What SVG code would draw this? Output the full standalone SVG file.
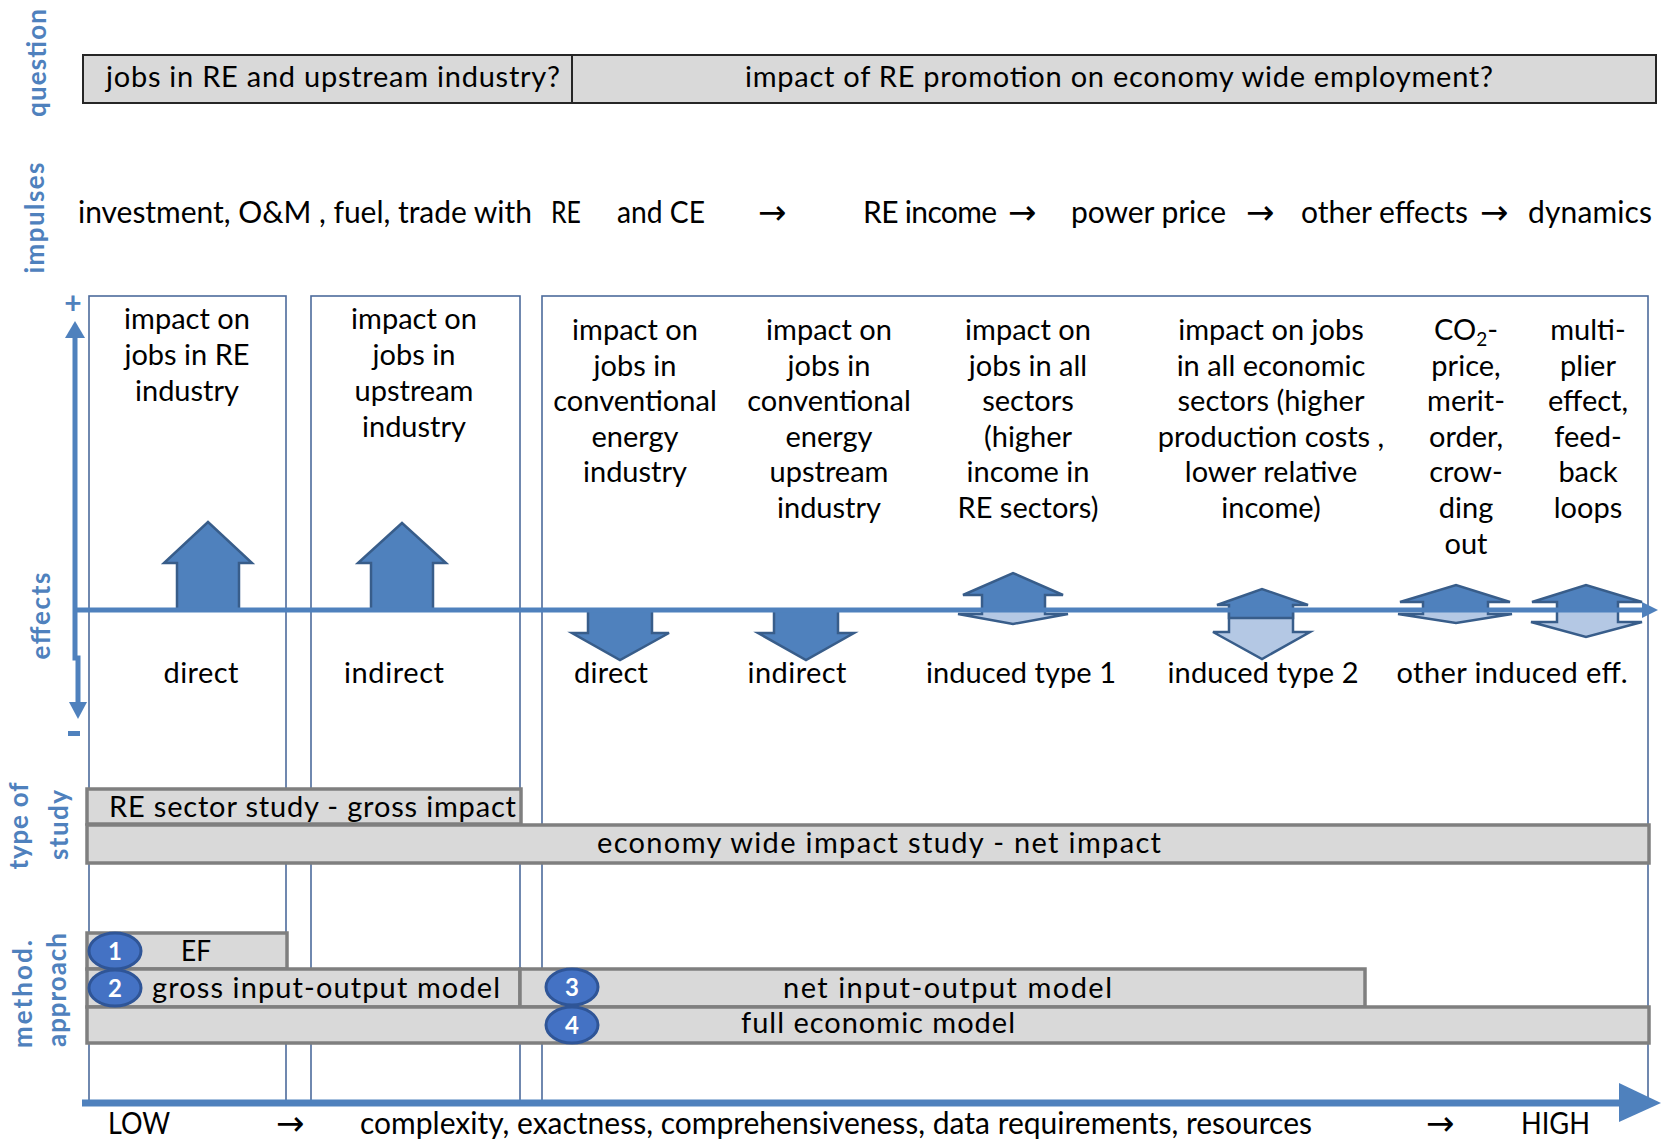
<svg xmlns="http://www.w3.org/2000/svg" width="1662" height="1140" viewBox="0 0 1662 1140">
  <style>
    text { font-family: Lato, "Liberation Sans", sans-serif; fill: #000; }
    .side { font-size: 26px; font-weight: bold; fill: #4F81BD; text-anchor: middle; }
    .q { font-size: 29px; }
    .imp { font-size: 30px; }
    .arr { font-family: "DejaVu Sans", sans-serif; font-size: 34px; }
    .col { font-size: 29px; text-anchor: middle; }
    .lbl { font-size: 29px; text-anchor: middle; }
    .bar { font-size: 29px; }
    .mid { text-anchor: middle; }
    .qbox { fill: #D9D9D9; stroke: #262626; stroke-width: 2; }
    .frame { fill: none; stroke: #4D6B9C; stroke-width: 1.6; }
    .gbox { fill: #D9D9D9; stroke: #7F7F7F; stroke-width: 3.5; }
    .up { fill: #4F81BD; stroke: #385D8A; stroke-width: 2.5; stroke-linejoin: miter; }
    .down { fill: #B4C8E4; stroke: #385D8A; stroke-width: 2.5; }
    .axis { stroke: #4F81BD; fill: none; }
    .axhead { fill: #4F81BD; }
    .badge ellipse { fill: #4472C4; stroke: #2F5597; stroke-width: 3; }
    .badge text { fill: #fff; font-size: 24px; font-weight: bold; text-anchor: middle; }
  </style>

  <!-- row captions on the left -->
  <g id="captions">
    <text class="side" transform="translate(46,63) rotate(-90)" textLength="108">question</text>
    <text class="side" transform="translate(44,218) rotate(-90)" textLength="111">impulses</text>
    <text class="side" transform="translate(50,616) rotate(-90)" textLength="87">effects</text>
    <text class="side" transform="translate(28,826) rotate(-90)" textLength="87">type of</text>
    <text class="side" transform="translate(68,825) rotate(-90)" textLength="70">study</text>
    <text class="side" transform="translate(32,994) rotate(-90)" textLength="108">method.</text>
    <text class="side" transform="translate(66,990) rotate(-90)" textLength="114">approach</text>
  </g>

  <!-- question bar -->
  <g id="question">
    <rect class="qbox" x="83" y="55" width="1573" height="48"/>
    <line x1="572" y1="55" x2="572" y2="103" stroke="#262626" stroke-width="2"/>
    <text class="q" x="106" y="87" textLength="454">jobs in RE and upstream industry?</text>
    <text class="q" x="745" y="87" textLength="748">impact of RE promotion on economy wide employment?</text>
  </g>

  <!-- impulses row -->
  <g id="impulses">
    <text class="imp" x="78" y="223" textLength="454">investment, O&amp;M , fuel, trade with</text>
    <text class="imp" x="551" y="223" textLength="30" lengthAdjust="spacingAndGlyphs">RE</text>
    <text class="imp" x="617" y="223" textLength="88" lengthAdjust="spacingAndGlyphs">and CE</text>
    <text class="arr" x="758" y="224">→</text>
    <text class="imp" x="863" y="223" textLength="134">RE income</text>
    <text class="arr" x="1008" y="224">→</text>
    <text class="imp" x="1071" y="223" textLength="155">power price</text>
    <text class="arr" x="1246" y="224">→</text>
    <text class="imp" x="1301" y="223" textLength="167">other effects</text>
    <text class="arr" x="1480" y="224">→</text>
    <text class="imp" x="1528" y="223" textLength="124">dynamics</text>
  </g>

  <!-- column frames -->
  <g id="frames">
    <rect class="frame" x="89" y="296" width="197" height="807"/>
    <rect class="frame" x="311" y="296" width="209" height="807"/>
    <rect class="frame" x="542" y="296" width="1106" height="807"/>
  </g>

  <!-- effect descriptions -->
  <g id="col-re">
    <text class="col" x="187" y="329">impact on</text>
    <text class="col" x="187" y="365">jobs in RE</text>
    <text class="col" x="187" y="401">industry</text>
  </g>
  <g id="col-upstream">
    <text class="col" x="414" y="329">impact on</text>
    <text class="col" x="414" y="365">jobs in</text>
    <text class="col" x="414" y="401">upstream</text>
    <text class="col" x="414" y="437">industry</text>
  </g>
  <g id="col-ce">
    <text class="col" x="635" y="340">impact on</text>
    <text class="col" x="635" y="376">jobs in</text>
    <text class="col" x="635" y="411">conventional</text>
    <text class="col" x="635" y="447">energy</text>
    <text class="col" x="635" y="482">industry</text>
  </g>
  <g id="col-ce-upstream">
    <text class="col" x="829" y="340">impact on</text>
    <text class="col" x="829" y="376">jobs in</text>
    <text class="col" x="829" y="411">conventional</text>
    <text class="col" x="829" y="447">energy</text>
    <text class="col" x="829" y="482">upstream</text>
    <text class="col" x="829" y="518">industry</text>
  </g>
  <g id="col-induced1">
    <text class="col" x="1028" y="340">impact on</text>
    <text class="col" x="1028" y="376">jobs in all</text>
    <text class="col" x="1028" y="411">sectors</text>
    <text class="col" x="1028" y="447">(higher</text>
    <text class="col" x="1028" y="482">income in</text>
    <text class="col" x="1028" y="518">RE sectors)</text>
  </g>
  <g id="col-induced2">
    <text class="col" x="1271" y="340">impact on jobs</text>
    <text class="col" x="1271" y="376">in all economic</text>
    <text class="col" x="1271" y="411">sectors (higher</text>
    <text class="col" x="1271" y="447">production costs ,</text>
    <text class="col" x="1271" y="482">lower relative</text>
    <text class="col" x="1271" y="518">income)</text>
  </g>
  <g id="col-co2">
    <text class="col" x="1466" y="340">CO<tspan font-size="19" dy="6">2</tspan><tspan dy="-6">-</tspan></text>
    <text class="col" x="1466" y="376">price,</text>
    <text class="col" x="1466" y="411">merit-</text>
    <text class="col" x="1466" y="447">order,</text>
    <text class="col" x="1466" y="482">crow-</text>
    <text class="col" x="1466" y="518">ding</text>
    <text class="col" x="1466" y="554">out</text>
  </g>
  <g id="col-multiplier">
    <text class="col" x="1588" y="340">multi-</text>
    <text class="col" x="1588" y="376">plier</text>
    <text class="col" x="1588" y="411">effect,</text>
    <text class="col" x="1588" y="447">feed-</text>
    <text class="col" x="1588" y="482">back</text>
    <text class="col" x="1588" y="518">loops</text>
  </g>

  <!-- effect direction arrows -->
  <g id="effect-arrows">
    <polygon class="up" points="177,610 177,563 164,563 208,522 252,563 239,563 239,610"/>
    <polygon class="up" points="371,610 371,563 358,563 402,523 446,563 433,563 433,610"/>
    <polygon class="up" points="588,610 588,633 572,633 620,660 669,633 652,633 652,610"/>
    <polygon class="up" points="774,610 774,633 758,633 806,660 854,633 838,633 838,610"/>
    <!-- induced type 1 -->
    <polygon class="down" points="982,610 982,614 958,614 1013,624 1068,614 1045,614 1045,610"/>
    <polygon class="up" points="982,610 982,595 963,595 1013,573 1063,595 1045,595 1045,610"/>
    <!-- induced type 2 -->
    <polygon class="down" points="1229,610 1229,632 1213,632 1262,659 1310,632 1293,632 1293,610"/>
    <polygon class="up" points="1229,618 1229,605 1217,605 1262,589 1308,605 1293,605 1293,618"/>
    <!-- other induced effects -->
    <polygon class="down" points="1423,610 1423,614 1398,614 1456,623 1512,614 1488,614 1488,610"/>
    <polygon class="up" points="1423,610 1423,602 1400,602 1456,585 1510,602 1488,602 1488,610"/>
    <polygon class="down" points="1557,610 1557,622 1531,622 1586,637 1642,622 1618,622 1618,610"/>
    <polygon class="up" points="1557,610 1557,602 1532,602 1586,585 1642,602 1618,602 1618,610"/>
  </g>

  <!-- axes -->
  <g id="connectors">
    <line class="axis" x1="75" y1="610" x2="1645" y2="610" stroke-width="5"/>
    <polygon class="axhead" points="1642,602 1658,610 1642,618"/>
    <line class="axis" x1="75" y1="610" x2="75" y2="334" stroke-width="5"/>
    <polygon class="axhead" points="65,338 75,321 85,338"/>
    <polyline class="axis" points="75,610 75,658 78,658 78,704" stroke-width="5"/>
    <polygon class="axhead" points="69,702 78,719 87,702"/>
    <line class="axis" x1="82" y1="1103" x2="1622" y2="1103" stroke-width="7"/>
    <polygon class="axhead" points="1619,1083 1661,1103 1619,1122"/>
  </g>

  <!-- axis signs -->
  <g id="signs">
    <text x="73" y="314" font-size="30" font-weight="bold" style="fill:#4F81BD" class="mid">+</text>
    <rect x="68" y="731" width="12" height="5" fill="#4F81BD"/>
  </g>

  <!-- effect type labels -->
  <g id="effect-labels">
    <text class="lbl" x="201" y="683" textLength="75">direct</text>
    <text class="lbl" x="394" y="683" textLength="100">indirect</text>
    <text class="lbl" x="611" y="683" textLength="74">direct</text>
    <text class="lbl" x="797" y="683" textLength="99">indirect</text>
    <text class="lbl" x="1021" y="683" textLength="190">induced type 1</text>
    <text class="lbl" x="1263" y="683" textLength="191">induced type 2</text>
    <text class="lbl" x="1512" y="683" textLength="231">other induced eff.</text>
  </g>

  <!-- type of study -->
  <g id="study-re">
    <rect class="gbox" x="87" y="789" width="434" height="35"/>
    <text class="bar" x="109" y="817" textLength="407">RE sector study - gross impact</text>
  </g>
  <g id="study-economy">
    <rect class="gbox" x="87" y="825" width="1562" height="38"/>
    <text class="bar" x="597" y="853" textLength="564">economy wide impact study - net impact</text>
  </g>

  <!-- methodological approach -->
  <g id="method-ef">
    <rect class="gbox" x="87" y="933" width="200" height="36"/>
    <text class="bar" x="181" y="961" textLength="30" lengthAdjust="spacingAndGlyphs">EF</text>
  </g>
  <g id="method-gross-io">
    <rect class="gbox" x="87" y="969" width="433" height="38"/>
    <text class="bar" x="152" y="998" textLength="348">gross input-output model</text>
  </g>
  <g id="method-net-io">
    <rect class="gbox" x="520" y="969" width="845" height="38"/>
    <text class="bar" x="783" y="998" textLength="329">net input-output model</text>
  </g>
  <g id="method-full">
    <rect class="gbox" x="87" y="1007" width="1562" height="36"/>
    <text class="bar" x="741" y="1033" textLength="274">full economic model</text>
  </g>
  <g id="badge-1" class="badge">
    <ellipse cx="115" cy="951" rx="26" ry="18"/>
    <text x="115" y="960">1</text>
  </g>
  <g id="badge-2" class="badge">
    <ellipse cx="115" cy="988" rx="26" ry="18"/>
    <text x="115" y="997">2</text>
  </g>
  <g id="badge-3" class="badge">
    <ellipse cx="572" cy="987" rx="26" ry="18"/>
    <text x="572" y="996">3</text>
  </g>
  <g id="badge-4" class="badge">
    <ellipse cx="572" cy="1025" rx="26" ry="18"/>
    <text x="572" y="1034">4</text>
  </g>

  <!-- scale along the bottom axis -->
  <g id="scale">
    <text class="imp" x="108" y="1134" textLength="62" lengthAdjust="spacingAndGlyphs">LOW</text>
    <text class="arr" x="276" y="1135">→</text>
    <text class="imp" x="360" y="1134" textLength="952">complexity, exactness, comprehensiveness, data requirements, resources</text>
    <text class="arr" x="1426" y="1135">→</text>
    <text class="imp" x="1521" y="1134" textLength="69" lengthAdjust="spacingAndGlyphs">HIGH</text>
  </g>
</svg>
